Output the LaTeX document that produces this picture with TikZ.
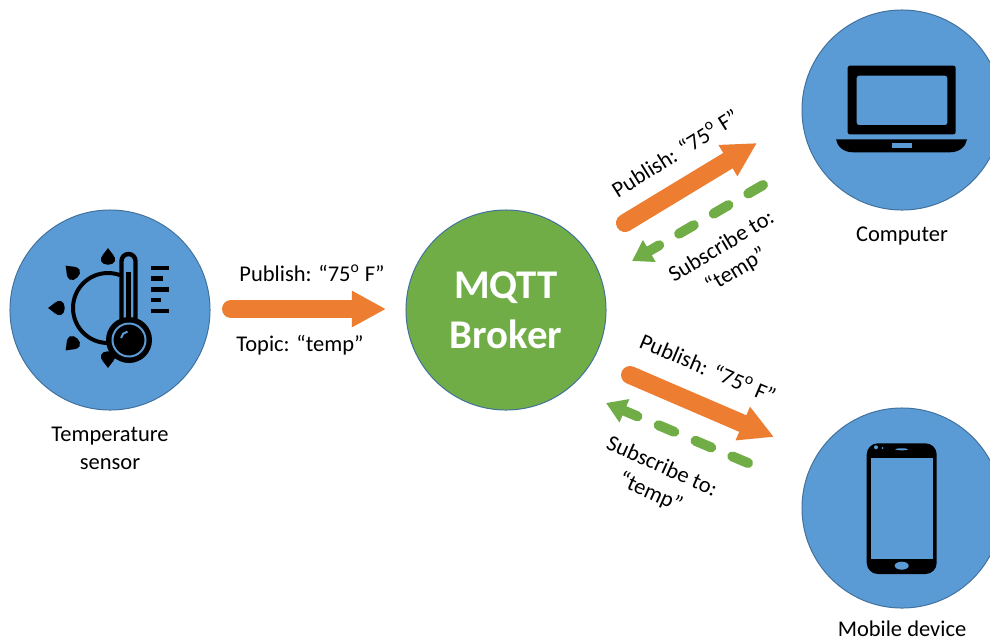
\documentclass[tikz,border=0pt]{standalone}
\usepackage{fontspec}
\setmainfont{Carlito}
\usetikzlibrary{positioning,arrows.meta}

\definecolor{devblue}{HTML}{5B9BD5}
\definecolor{devedge}{HTML}{41719C}
\definecolor{pubcolor}{HTML}{ED7D31}
\definecolor{subcolor}{HTML}{70AD47}

\tikzset{
  device/.style={circle, draw=devedge, fill=devblue, line width=0.7pt, minimum size=5cm, inner sep=0pt},
  devlabel/.style={font=\fontsize{16}{20}\selectfont, align=center, inner sep=0pt},
  msg/.style={font=\fontsize{16}{20}\selectfont, align=center, inner sep=0pt},
  pubarrow/.style={draw=pubcolor, line width=0.45cm, line cap=round, -{Triangle[length=0.85cm,width=0.85cm]}},
  subarrow/.style={draw=subcolor, line width=0.25cm, line cap=round, dash pattern=on 0.425cm off 0.575cm, -{Triangle[length=0.5cm,width=0.6cm]}}
}

\begin{document}
\begin{tikzpicture}[x=0.025cm, y=-0.025cm]
  \useasboundingbox (0,0) rectangle (990,639);
  \clip (0,0) rectangle (990,639);

  \node[device] (sensor) at (110,310) {};
  \node[device] (computer) at (902,110) {};
  \node[device] (mobile) at (902,508) {};
  \node[device, fill=subcolor, font=\bfseries\fontsize{29}{35.4}\selectfont, text=white, align=center] (broker) at (506,310) {MQTT\\Broker};

  \node[devlabel, below=0.4cm of sensor] (sensorlabel) {Temperature\\sensor};
  \node[devlabel, below=0.4cm of computer] (computerlabel) {Computer};
  \node[devlabel, below=0.3cm of mobile] (mobilelabel) {Mobile device};

  % end points of the message arrows
  \coordinate (pubin) at (231,309);
  \coordinate (pubinend) at (386,309);
  \coordinate (pubup) at (625,223);
  \coordinate (pubupend) at (757,143);
  \coordinate (subup) at (763,185);
  \coordinate (subupend) at (632,261);
  \coordinate (pubdown) at (630,375);
  \coordinate (pubdownend) at (774,437);
  \coordinate (subdown) at (748,463);
  \coordinate (subdownend) at (606,403);

  \draw[pubarrow] (pubin) -- (pubinend);
  \draw[pubarrow] (pubup) -- (pubupend);
  \draw[pubarrow] (pubdown) -- (pubdownend);
  \draw[subarrow] (subup) -- (subupend);
  \draw[subarrow] (subdown) -- (subdownend);

  \node[msg] (pubinlabel) at (312,273) {Publish: “75\textsuperscript{o} F”};
  \node[msg] (topiclabel) at (300,345) {Topic: “temp”};
  \node[msg, rotate=32] (publabelup) at (675,153) {Publish: “75\textsuperscript{o} F”};
  \node[msg, rotate=31] (sublabelup) at (729,259) {Subscribe to:\\“temp”};
  \node[msg, rotate=-23] (publabeldown) at (708,368) {Publish: “75\textsuperscript{o} F”};
  \node[msg, rotate=-24] (sublabeldown) at (656,480) {Subscribe to:\\“temp”};

  % sun behind the thermometer
  \draw[line width=0.1cm] (108,308) ++(-70:35) arc[start angle=-70, end angle=-290, radius=35];
  \foreach \ang in {90,135,180,225,270} {
    \fill[shift={(108,308)}, rotate=\ang] (60,0) .. controls (55,-3) and (52,-8) .. (47,-7) .. controls (42,-5) and (42,5) .. (47,7) .. controls (52,8) and (55,3) .. (60,0) -- cycle;
  }
  \fill (126,272) rectangle (130.7,340);
  \draw[line width=0.11cm] (121.5,330) -- (121.5,261) arc[start angle=180, end angle=360, radius=7] -- (135.5,330);
  \fill (129,340) circle (23);
  \draw[devblue, line width=0.05cm] (129,340) circle (16.5);
  \draw[devblue, line width=0.05cm] (121,338) arc[start angle=190, end angle=260, radius=8];
  \foreach \ypos/\xend in {267.7/169.3, 278.3/163.3, 289.3/169.3, 300/161.3, 311/169.3} {
    \draw[line width=0.11cm] (150.7,\ypos) -- (\xend,\ypos);
  }

  % laptop
  \fill[rounded corners=1.5pt, even odd rule] (847.7,65.7) rectangle (955.7,134.3) (856.7,75.7) rectangle (947.3,125);
  \fill (836,139.3) -- (967,139.3) .. controls (966,146) and (960,152.3) .. (950,152.3) -- (853,152.3) .. controls (843,152.3) and (837,146) .. (836,139.3) -- cycle;
  \fill[devblue] (891.7,143.3) rectangle (911.7,147.7);

  % phone
  \fill[rounded corners=0.28cm] (866.7,443.3) rectangle (936.7,574);
  \fill[devblue] (871,458.3) rectangle (933.3,558.7);
  \fill[devblue] (901.7,565.7) ellipse (7 and 4);
  \fill[devblue] (901.7,449.3) ellipse (6.5 and 1);
  \fill[devblue] (876,447.3) circle (2);
  \fill[devblue] (882.7,448) circle (1);
\end{tikzpicture}
\end{document}
